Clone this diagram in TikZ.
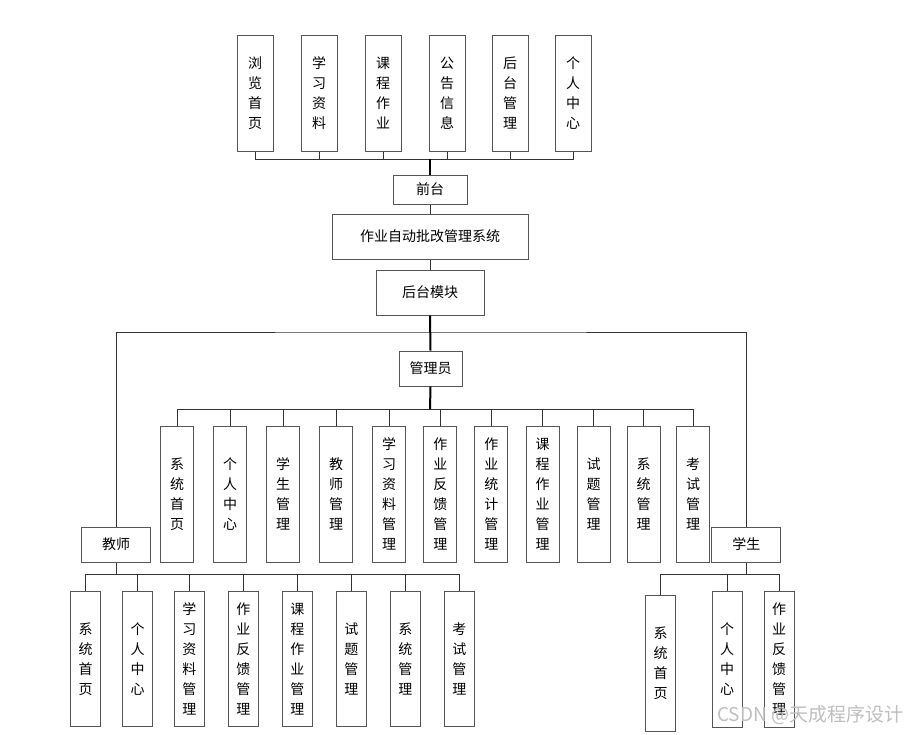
\documentclass[tikz,border=0pt]{standalone}
\usepackage{fontspec}
\newfontfamily\cjk{Noto Sans CJK SC}
\definecolor{boxgray}{HTML}{555555}
\definecolor{linegray}{HTML}{333333}
\begin{document}
\begin{tikzpicture}[x=1pt,y=-1pt,
  box/.style={draw=boxgray, line width=1pt, fill=white, inner sep=0pt, align=center,
    font=\cjk\fontsize{14}{20}\selectfont},
  vtop/.style={box, minimum width=36, minimum height=116},
  vadm/.style={box, minimum width=33, minimum height=136},
  vkid/.style={box, minimum width=30, minimum height=135},
  conn/.style={draw=linegray, line width=0.9pt},
  trunk/.style={draw=black, line width=2pt}]
\fill[white] (0,0) rectangle (923,734);
\useasboundingbox (0,0) rectangle (923,734);

% top row
\node[vtop] (t1) at (255,93) {浏\\览\\首\\页};
\node[vtop] (t2) at (319,93) {学\\习\\资\\料};
\node[vtop] (t3) at (383,93) {课\\程\\作\\业};
\node[vtop] (t4) at (447,93) {公\\告\\信\\息};
\node[vtop] (t5) at (510,93) {后\\台\\管\\理};
\node[vtop] (t6) at (573,93) {个\\人\\中\\心};

\node[box, minimum width=74, minimum height=29] (qt) at (430,189.5) {前台};
\node[box, minimum width=196, minimum height=45] (sys) at (430,236.5) {作业自动批改管理系统};
\node[box, minimum width=108, minimum height=45] (ht) at (430,292.5) {后台模块};
\node[box, minimum width=63, minimum height=35] (adm) at (430.5,368.5) {管理员};

% admin children
\node[vadm] (a1) at (177,494) {系\\统\\首\\页};
\node[vadm] (a2) at (230,494) {个\\人\\中\\心};
\node[vadm] (a3) at (283,494) {学\\生\\管\\理};
\node[vadm] (a4) at (336,494) {教\\师\\管\\理};
\node[vadm] (a5) at (389,494) {学\\习\\资\\料\\管\\理};
\node[vadm] (a6) at (440.3,494) {作\\业\\反\\馈\\管\\理};
\node[vadm] (a7) at (491.3,494) {作\\业\\统\\计\\管\\理};
\node[vadm] (a8) at (542.5,494) {课\\程\\作\\业\\管\\理};
\node[vadm] (a9) at (593.7,494) {试\\题\\管\\理};
\node[vadm] (a10) at (643.5,494) {系\\统\\管\\理};
\node[vadm] (a11) at (693,494) {考\\试\\管\\理};

\node[box, minimum width=69, minimum height=35] (js) at (116,544.5) {教师};
\node[box, minimum width=69, minimum height=35] (xs) at (746.3,544.5) {学生};

% teacher children
\node[vkid] (k1) at (85.5,659) {系\\统\\首\\页};
\node[vkid] (k2) at (137.5,659) {个\\人\\中\\心};
\node[vkid] (k3) at (189.3,659) {学\\习\\资\\料\\管\\理};
\node[vkid] (k4) at (243.3,659) {作\\业\\反\\馈\\管\\理};
\node[vkid] (k5) at (297.3,659) {课\\程\\作\\业\\管\\理};
\node[vkid] (k6) at (351.3,659) {试\\题\\管\\理};
\node[vkid] (k7) at (405.3,659) {系\\统\\管\\理};
\node[vkid] (k8) at (459.3,659) {考\\试\\管\\理};

% student children
\node[box, minimum width=30, minimum height=136] (s1) at (660.5,663.7) {系\\统\\首\\页};
\node[box, minimum width=30, minimum height=136] (s2) at (727,659) {个\\人\\中\\心};
\node[box, minimum width=30, minimum height=136] (s3) at (779,659) {作\\业\\反\\馈\\管\\理};

% bus coordinates
\coordinate (topbus) at (430,159.3);
\coordinate (hl) at (430,332);
\coordinate (abus) at (430,409);
\coordinate (tbus) at (116,574.3);
\coordinate (sbus) at (746.3,574);

% connectors
\foreach \n in {t1,t2,t3,t4,t5,t6} \draw[conn] (\n.south) |- (topbus);
\draw[trunk] (topbus) -- (qt.north);
\draw[conn] (qt.south) -- (sys.north);
\draw[conn] (sys.south) -- (ht.north);
\draw[conn] (js.north) |- (hl) -| (xs.north);
\draw[trunk] (ht.south) -- (adm.north);
\draw[trunk] (adm.south) -- (abus);
\foreach \n in {a1,a2,a3,a4,a5,a6,a7,a8,a9,a10,a11} \draw[conn] (\n.north) |- (abus);
\draw[conn] (js.south) -- (tbus);
\foreach \n in {k1,k2,k3,k4,k5,k6,k7,k8} \draw[conn] (\n.north) |- (tbus);
\draw[conn] (xs.south) -- (sbus);
\foreach \n in {s1,s2,s3} \draw[conn] (\n.north) |- (sbus);

% watermark
\node[font=\cjk\fontsize{19}{19}\selectfont, text=gray!50, inner sep=0pt, anchor=west] (wm) at (717,715) {CSDN @天成程序设计};
\end{tikzpicture}
\end{document}
